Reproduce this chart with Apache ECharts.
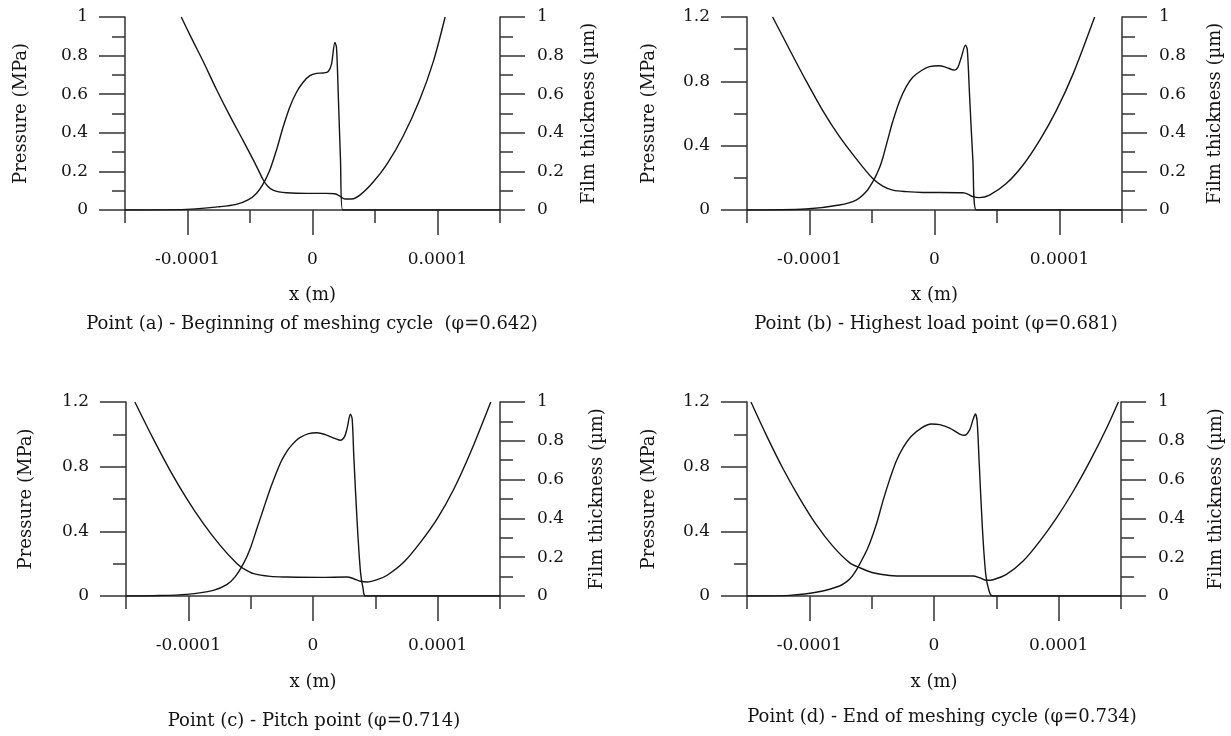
<!DOCTYPE html>
<html><head><meta charset="utf-8">
<script src="https://cdn.jsdelivr.net/npm/echarts@6/dist/echarts.min.js"></script>
<style>html,body{margin:0;padding:0;background:#fff}#c{width:1231px;height:736px}</style>
</head><body><div id="c"></div>
<script>
// ---- tick definitions ----
const xTickValues = [-1e-4, 0, 1e-4];
const xTickLabels = ['-0.0001', '0', '0.0001'];
const xMinorTickValues = [-1.5e-4, -0.5e-4, 0.5e-4, 1.5e-4];
const pressureMax = [1, 1.2, 1.2, 1.2];
const pressureInterval = [0.2, 0.4, 0.4, 0.4];
const filmMax = [1, 1, 1, 1];
const filmInterval = [0.2, 0.2, 0.2, 0.2];
const panelTitles = [
  'Point (a) - Beginning of meshing cycle  (\u03c6=0.642)',
  'Point (b) - Highest load point (\u03c6=0.681)',
  'Point (c) - Pitch point (\u03c6=0.714)',
  'Point (d) - End of meshing cycle (\u03c6=0.734)'
];
const leftAxisName = 'Pressure (MPa)';
const rightAxisName = 'Film thickness (\u00b5m)';
const xAxisName = 'x (m)';

// ---- data: [x (m), value] ----
const pressureA = [[-15e-5,0],[-10.1e-5,0.003],[-7.43e-5,0.017],[-6.09e-5,0.029],[-5.16e-5,0.052],[-4.49e-5,0.086],[-3.96e-5,0.134],[-3.42e-5,0.206],[-2.89e-5,0.309],[-2.35e-5,0.43],[-1.82e-5,0.533],[-1.28e-5,0.61],[-0.75e-5,0.662],[-0.21e-5,0.696],[0.32e-5,0.708],[0.86e-5,0.71],[1.26e-5,0.718],[1.52e-5,0.756],[1.79e-5,0.868],[1.92e-5,0.842],[2.06e-5,0.601],[2.24e-5,0.258],[2.41e-5,0],[15e-5,0]];
const filmA = [[-10.5e-5,1.0],[-9.7e-5,0.893],[-8.77e-5,0.773],[-7.7e-5,0.627],[-6.63e-5,0.49],[-5.56e-5,0.361],[-4.76e-5,0.262],[-4.3e-5,0.203],[-3.96e-5,0.158],[-3.6e-5,0.124],[-3.2e-5,0.104],[-2.7e-5,0.094],[-2.08e-5,0.089],[-0.48e-5,0.086],[1.12e-5,0.086],[1.79e-5,0.084],[2.19e-5,0.072],[2.59e-5,0.057],[3.13e-5,0.057],[3.79e-5,0.077],[4.86e-5,0.145],[5.93e-5,0.235],[7.27e-5,0.385],[8.6e-5,0.575],[9.67e-5,0.77],[10.61e-5,1.0]];

const pressureB = [[-15e-5,0],[-10.28e-5,0.006],[-7.61e-5,0.031],[-6.27e-5,0.062],[-5.47e-5,0.113],[-4.94e-5,0.175],[-4.67e-5,0.215],[-4.4e-5,0.262],[-4.13e-5,0.325],[-3.87e-5,0.4],[-3.6e-5,0.478],[-3.34e-5,0.55],[-2.8e-5,0.676],[-2.27e-5,0.765],[-1.74e-5,0.825],[-1.07e-5,0.866],[-0.4e-5,0.891],[0.4e-5,0.897],[0.93e-5,0.887],[1.6e-5,0.87],[1.87e-5,0.887],[2.14e-5,0.948],[2.48e-5,1.025],[2.62e-5,1.0],[2.8e-5,0.722],[3.07e-5,0.309],[3.34e-5,0],[15e-5,0]];
const filmB = [[-12.95e-5,1.0],[-11.61e-5,0.833],[-10.28e-5,0.67],[-8.94e-5,0.515],[-7.61e-5,0.381],[-6.27e-5,0.266],[-4.94e-5,0.163],[-4.14e-5,0.124],[-3.34e-5,0.103],[-2.27e-5,0.095],[-0.93e-5,0.091],[0.4e-5,0.091],[2.27e-5,0.089],[2.67e-5,0.082],[3.07e-5,0.069],[3.6e-5,0.064],[4.4e-5,0.077],[5.74e-5,0.137],[7.07e-5,0.232],[8.41e-5,0.361],[9.74e-5,0.515],[11.08e-5,0.704],[12.81e-5,1.0]];

const pressureC = [[-15e-5,0],[-12.82e-5,0.002],[-10.13e-5,0.01],[-7.99e-5,0.035],[-6.92e-5,0.07],[-6.25e-5,0.118],[-5.58e-5,0.2],[-5.04e-5,0.293],[-4.5e-5,0.417],[-3.97e-5,0.54],[-3.43e-5,0.664],[-3.15e-5,0.72],[-2.9e-5,0.77],[-2.63e-5,0.82],[-2.36e-5,0.86],[-2.0e-5,0.905],[-1.69e-5,0.935],[-1.35e-5,0.962],[-1.02e-5,0.981],[-0.35e-5,1.004],[0.32e-5,1.01],[0.99e-5,0.998],[1.8e-5,0.973],[2.2e-5,0.963],[2.52e-5,0.984],[2.73e-5,1.035],[3.0e-5,1.124],[3.14e-5,1.097],[3.27e-5,0.87],[3.54e-5,0.458],[3.81e-5,0.148],[4.02e-5,0.045],[4.21e-5,0],[15e-5,0]];
const filmC = [[-14.29e-5,1.0],[-12.82e-5,0.811],[-11.47e-5,0.648],[-10.13e-5,0.502],[-8.79e-5,0.373],[-7.45e-5,0.261],[-6.11e-5,0.167],[-5.58e-5,0.141],[-4.77e-5,0.115],[-3.43e-5,0.101],[-2.09e-5,0.098],[0.59e-5,0.096],[2.73e-5,0.098],[3.27e-5,0.089],[3.81e-5,0.076],[4.34e-5,0.072],[5.15e-5,0.084],[5.95e-5,0.107],[7.29e-5,0.175],[8.63e-5,0.278],[9.97e-5,0.399],[11.31e-5,0.553],[12.65e-5,0.742],[14.26e-5,1.0]];

const pressureD = [[-15e-5,0],[-11.6e-5,0.004],[-8.92e-5,0.031],[-7.58e-5,0.062],[-7.2e-5,0.078],[-6.78e-5,0.103],[-6.4e-5,0.14],[-5.97e-5,0.196],[-5.3e-5,0.298],[-4.63e-5,0.442],[-4.1e-5,0.587],[-3.56e-5,0.72],[-3.03e-5,0.834],[-2.49e-5,0.916],[-1.82e-5,0.988],[-1.02e-5,1.039],[-0.21e-5,1.064],[0.46e-5,1.06],[1.26e-5,1.039],[2.06e-5,1.002],[2.46e-5,0.994],[2.87e-5,1.029],[3.13e-5,1.091],[3.32e-5,1.126],[3.46e-5,1.08],[3.62e-5,0.834],[3.88e-5,0.422],[4.15e-5,0.134],[4.42e-5,0.031],[4.69e-5,0],[15e-5,0]];
const filmD = [[-14.68e-5,1.0],[-13.47e-5,0.832],[-12.14e-5,0.66],[-10.8e-5,0.506],[-9.46e-5,0.369],[-8.12e-5,0.257],[-6.78e-5,0.172],[-5.97e-5,0.146],[-4.9e-5,0.12],[-3.56e-5,0.106],[-2.22e-5,0.103],[0.46e-5,0.103],[3.13e-5,0.103],[3.67e-5,0.094],[4.21e-5,0.081],[4.74e-5,0.084],[5.81e-5,0.111],[7.15e-5,0.18],[8.49e-5,0.283],[9.83e-5,0.403],[11.17e-5,0.54],[12.51e-5,0.695],[13.85e-5,0.866],[14.79e-5,1.0]];

const pressureData = [pressureA, pressureB, pressureC, pressureD];
const filmData = [filmA, filmB, filmC, filmD];

// ---- layout ----
const grids = [
  {left: 125, top: 17, width: 375, height: 193},
  {left: 747, top: 17, width: 375, height: 193},
  {left: 126, top: 402, width: 374, height: 194},
  {left: 747, top: 402, width: 374, height: 194}
];
const titlePos = [[312, 324], [936, 324], [314, 721], [942, 717]];
const leftNameGap = [95, 89, 91, 89];
const rightNameGap = [80, 84, 88, 86];
const xNameGap = [76, 76, 77, 77];

const FONT = 'DejaVu Serif';
const FS = 17;
const FS_NAME = 18;
const INK = '#141414';
const AX = '#333333';

const option = {animation: false, backgroundColor: '#fff', grid: [], xAxis: [], yAxis: [], series: [], graphic: []};

for (let i = 0; i < 4; i++) {
  const g = grids[i];
  option.grid.push({left: g.left, top: g.top, width: g.width, height: g.height, containLabel: false});
  // main x axis
  option.xAxis.push({
    type: 'value', gridIndex: i, position: 'bottom', min: -1.5e-4, max: 1.5e-4,
    axisLine: {show: true, onZero: false, lineStyle: {color: AX, width: 1.5}},
    axisTick: {show: true, customValues: xTickValues, length: 25, lineStyle: {color: AX, width: 1.5}},
    axisLabel: {show: true, customValues: xTickValues, margin: 41, color: INK, fontFamily: FONT, fontSize: FS,
      formatter: function (v) { let k = 0, best = 1; xTickValues.forEach((t, j) => { if (Math.abs(t - v) < best) { best = Math.abs(t - v); k = j; } }); return xTickLabels[k]; }},
    splitLine: {show: false},
    name: xAxisName, nameLocation: 'middle', nameGap: xNameGap[i], nameMoveOverlap: false,
    nameTextStyle: {color: INK, fontFamily: FONT, fontSize: FS_NAME}
  });
  // minor x ticks
  option.xAxis.push({
    type: 'value', gridIndex: i, position: 'bottom', min: -1.5e-4, max: 1.5e-4,
    axisLine: {show: false, onZero: false},
    axisTick: {show: true, customValues: xMinorTickValues, length: 13, lineStyle: {color: AX, width: 1.5}},
    axisLabel: {show: false}, splitLine: {show: false}
  });
  // left pressure axis
  option.yAxis.push({
    type: 'value', gridIndex: i, position: 'left', min: 0, max: pressureMax[i], interval: pressureInterval[i],
    axisLine: {show: true, onZero: false, lineStyle: {color: AX, width: 1.5}},
    axisTick: {show: true, length: 26, lineStyle: {color: AX, width: 1.5}},
    minorTick: {show: true, splitNumber: 2, length: 13, lineStyle: {color: AX, width: 1.5}},
    axisLabel: {margin: 37, color: INK, fontFamily: FONT, fontSize: FS},
    splitLine: {show: false}, minorSplitLine: {show: false},
    name: leftAxisName, nameLocation: 'middle', nameGap: leftNameGap[i], nameMoveOverlap: false,
    nameTextStyle: {color: INK, fontFamily: FONT, fontSize: FS_NAME}
  });
  // right film axis
  option.yAxis.push({
    type: 'value', gridIndex: i, position: 'right', min: 0, max: filmMax[i], interval: filmInterval[i],
    axisLine: {show: true, onZero: false, lineStyle: {color: AX, width: 1.5}},
    axisTick: {show: true, length: 25, lineStyle: {color: AX, width: 1.5}},
    minorTick: {show: true, splitNumber: 2, length: 13, lineStyle: {color: AX, width: 1.5}},
    axisLabel: {margin: 37, color: INK, fontFamily: FONT, fontSize: FS},
    splitLine: {show: false}, minorSplitLine: {show: false},
    name: rightAxisName, nameLocation: 'middle', nameGap: rightNameGap[i], nameMoveOverlap: false,
    nameTextStyle: {color: INK, fontFamily: FONT, fontSize: FS_NAME}
  });
  option.series.push({
    type: 'line', name: 'Pressure ' + i, xAxisIndex: 2 * i, yAxisIndex: 2 * i, data: pressureData[i],
    showSymbol: false, smooth: 0.3, clip: true,
    lineStyle: {color: INK, width: 1.4}
  });
  option.series.push({
    type: 'line', name: 'Film ' + i, xAxisIndex: 2 * i, yAxisIndex: 2 * i + 1, data: filmData[i],
    showSymbol: false, smooth: 0.3, clip: true,
    lineStyle: {color: INK, width: 1.4}
  });
  option.graphic.push({
    type: 'text', x: titlePos[i][0], y: titlePos[i][1],
    style: {text: panelTitles[i], fill: INK, font: FS_NAME + 'px "' + FONT + '"', textAlign: 'center', textVerticalAlign: 'middle'}
  });
}

const chart = echarts.init(document.getElementById('c'), null, {renderer: 'canvas'});
chart.setOption(option);
</script>
</body></html>
